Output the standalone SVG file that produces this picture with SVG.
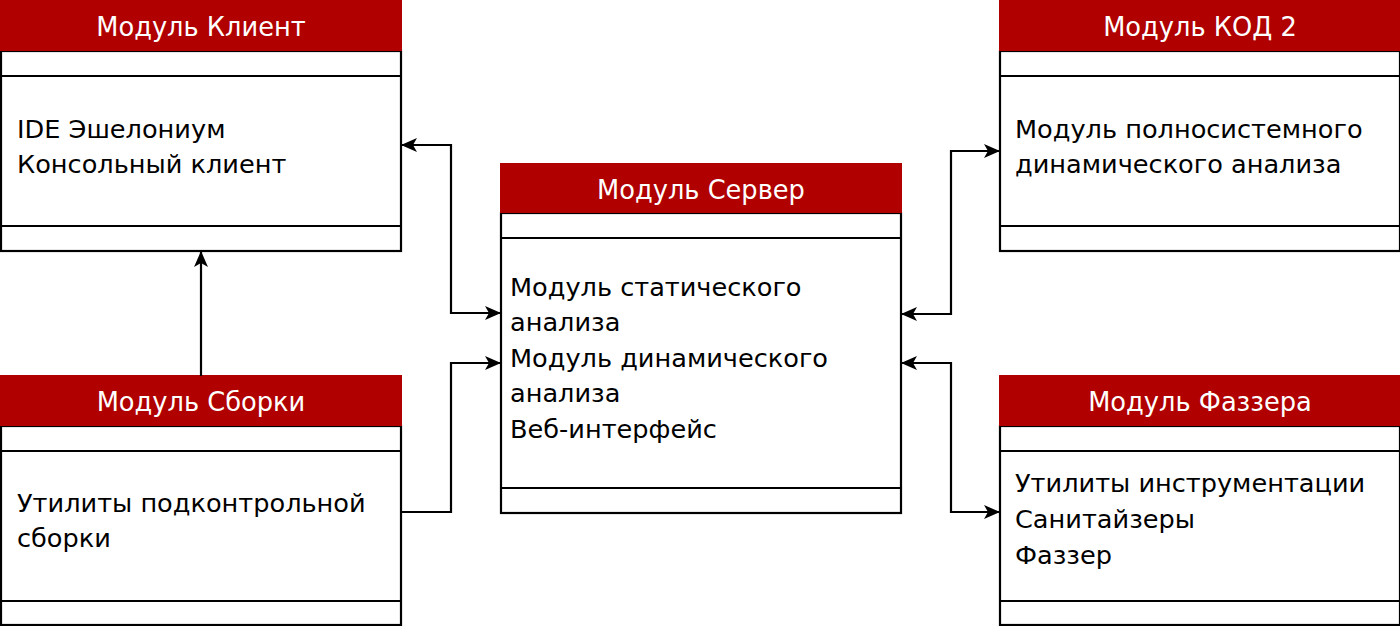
<svg xmlns="http://www.w3.org/2000/svg" width="1400" height="626" viewBox="0 0 1400 626">
<style>
.hdr{fill:#B00000;}
.box{fill:#fff;stroke:#000;stroke-width:2.2;}
.sep{stroke:#000;stroke-width:2.2;}
.ht{font-family:"DejaVu Sans",sans-serif;font-size:25.7px;fill:#fff;text-anchor:middle;}
.bt{font-family:"DejaVu Sans",sans-serif;font-size:25.6px;fill:#000;}
.edge{fill:none;stroke:#000;stroke-width:2.2;}
</style>
<defs>
<marker id="arr" viewBox="0 0 16 14" refX="15" refY="7" markerWidth="16" markerHeight="14" markerUnits="userSpaceOnUse" orient="auto-start-reverse">
<path d="M0,0 L16,7 L0,14 L4,7 z" fill="#000"/>
</marker>
</defs>
<rect width="1400" height="626" fill="#fff"/>
<g id="client">
<rect class="box" x="1" y="51" width="400" height="200"/>
<line class="sep" x1="1" y1="76" x2="401" y2="76"/>
<line class="sep" x1="1" y1="226" x2="401" y2="226"/>
<rect class="hdr" x="0" y="0" width="402" height="51"/>
<text class="ht" x="201" y="36">Модуль Клиент</text>
<text class="bt" x="17" y="138">IDE Эшелониум</text>
<text class="bt" x="17" y="173">Консольный клиент</text>
</g>
<g id="kod2">
<rect class="box" x="1000" y="51" width="400" height="200"/>
<line class="sep" x1="1000" y1="76" x2="1400" y2="76"/>
<line class="sep" x1="1000" y1="226" x2="1400" y2="226"/>
<rect class="hdr" x="999" y="0" width="401" height="51"/>
<text class="ht" x="1200" y="36">Модуль КОД 2</text>
<text class="bt" x="1015" y="138">Модуль полносистемного</text>
<text class="bt" x="1015" y="173">динамического анализа</text>
</g>
<g id="server">
<rect class="box" x="501" y="213" width="400" height="300"/>
<line class="sep" x1="501" y1="238" x2="901" y2="238"/>
<line class="sep" x1="501" y1="488" x2="901" y2="488"/>
<rect class="hdr" x="500" y="163" width="402" height="50"/>
<text class="ht" x="701" y="199">Модуль Сервер</text>
<text class="bt" x="510" y="296">Модуль статического</text>
<text class="bt" x="510" y="331">анализа</text>
<text class="bt" x="510" y="367">Модуль динамического</text>
<text class="bt" x="510" y="402">анализа</text>
<text class="bt" x="510" y="438">Веб-интерфейс</text>
</g>
<g id="build">
<rect class="box" x="1" y="426" width="400" height="199"/>
<line class="sep" x1="1" y1="451" x2="401" y2="451"/>
<line class="sep" x1="1" y1="601" x2="401" y2="601"/>
<rect class="hdr" x="0" y="375" width="402" height="51"/>
<text class="ht" x="201" y="411">Модуль Сборки</text>
<text class="bt" x="17" y="512">Утилиты подконтрольной</text>
<text class="bt" x="17" y="547">сборки</text>
</g>
<g id="fuzzer">
<rect class="box" x="1000" y="426" width="400" height="199"/>
<line class="sep" x1="1000" y1="451" x2="1400" y2="451"/>
<line class="sep" x1="1000" y1="601" x2="1400" y2="601"/>
<rect class="hdr" x="999" y="375" width="401" height="51"/>
<text class="ht" x="1200" y="411">Модуль Фаззера</text>
<text class="bt" x="1015" y="492">Утилиты инструментации</text>
<text class="bt" x="1015" y="528">Санитайзеры</text>
<text class="bt" x="1015" y="564">Фаззер</text>
</g>
<g id="connectors">
<path class="edge" d="M402,145 H451 V313 H500" marker-start="url(#arr)" marker-end="url(#arr)"/>
<path class="edge" d="M401,512 H451 V363 H500" marker-end="url(#arr)"/>
<path class="edge" d="M201,376 V252" marker-end="url(#arr)"/>
<path class="edge" d="M999,151 H951 V314 H902" marker-start="url(#arr)" marker-end="url(#arr)"/>
<path class="edge" d="M999,512 H951 V363 H902" marker-start="url(#arr)" marker-end="url(#arr)"/>
</g>
</svg>
